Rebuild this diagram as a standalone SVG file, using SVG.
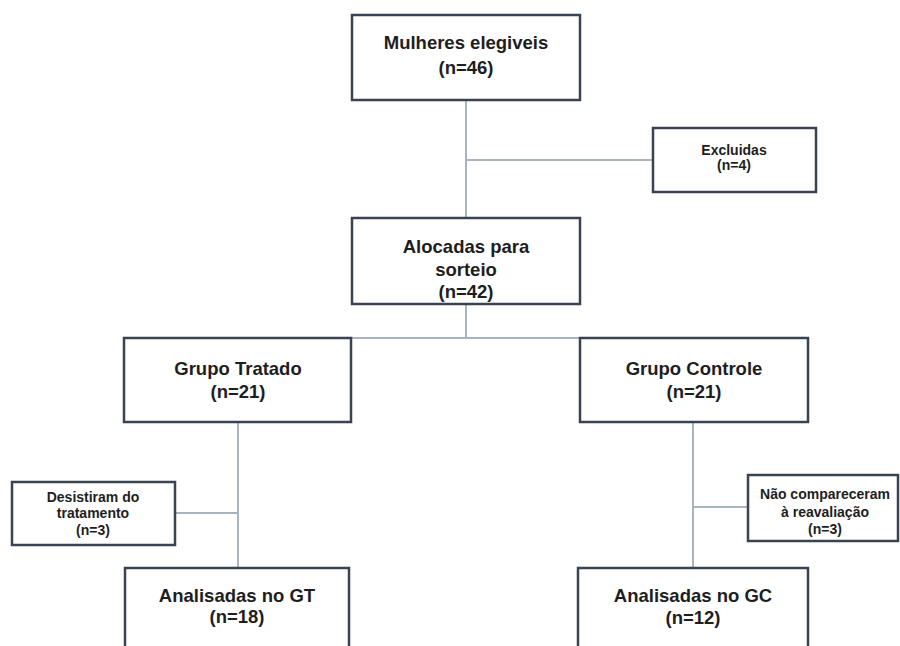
<svg xmlns="http://www.w3.org/2000/svg" width="900" height="646" viewBox="0 0 900 646">
<style>
.box{fill:#ffffff;stroke:#3a4352;stroke-width:2.5}
.line{stroke:#a9b4c1;stroke-width:2;fill:none}
.t{font-family:"Liberation Sans",Arial,sans-serif;font-weight:bold;fill:#1e1e1e;text-anchor:middle}
.big{font-size:18.5px}
.small{font-size:14px}
</style>
<rect width="900" height="646" fill="#ffffff"/>
<g id="connectors">
<line class="line" x1="466" y1="100" x2="466" y2="218"/>
<line class="line" x1="466" y1="160" x2="653" y2="160"/>
<line class="line" x1="466" y1="304" x2="466" y2="338"/>
<line class="line" x1="351" y1="338" x2="580" y2="338"/>
<line class="line" x1="238" y1="422" x2="238" y2="568"/>
<line class="line" x1="175" y1="513" x2="238" y2="513"/>
<line class="line" x1="693" y1="422" x2="693" y2="568"/>
<line class="line" x1="693" y1="507" x2="748" y2="507"/>
</g>
<g id="mulheres">
<rect class="box" x="352" y="15" width="228" height="85"/>
<text class="t big" x="466" y="49">Mulheres elegiveis</text>
<text class="t big" x="466" y="74">(n=46)</text>
</g>
<g id="excluidas">
<rect class="box" x="653" y="128" width="163" height="64"/>
<text class="t small" x="734" y="155">Excluidas</text>
<text class="t small" x="734" y="170">(n=4)</text>
</g>
<g id="alocadas">
<rect class="box" x="352" y="218" width="228" height="86"/>
<text class="t big" x="466" y="253">Alocadas para</text>
<text class="t big" x="466" y="276">sorteio</text>
<text class="t big" x="466" y="298">(n=42)</text>
</g>
<g id="tratado">
<rect class="box" x="124" y="338" width="227" height="84"/>
<text class="t big" x="238" y="375">Grupo Tratado</text>
<text class="t big" x="238" y="398">(n=21)</text>
</g>
<g id="controle">
<rect class="box" x="580" y="338" width="228" height="84"/>
<text class="t big" x="694" y="375">Grupo Controle</text>
<text class="t big" x="694" y="398">(n=21)</text>
</g>
<g id="desistiram">
<rect class="box" x="12" y="482" width="163" height="63"/>
<text class="t small" x="93" y="502">Desistiram do</text>
<text class="t small" x="93" y="518">tratamento</text>
<text class="t small" x="93" y="535">(n=3)</text>
</g>
<g id="naocompareceram">
<rect class="box" x="748" y="475" width="150" height="66"/>
<text class="t small" x="825" y="499">Não compareceram</text>
<text class="t small" x="825" y="517">à reavaliação</text>
<text class="t small" x="825" y="534">(n=3)</text>
</g>
<g id="analisadasGT">
<rect class="box" x="125" y="568" width="224" height="90"/>
<text class="t big" x="237" y="602">Analisadas no GT</text>
<text class="t big" x="237" y="623">(n=18)</text>
</g>
<g id="analisadasGC">
<rect class="box" x="578" y="568" width="230" height="90"/>
<text class="t big" x="693" y="602">Analisadas no GC</text>
<text class="t big" x="693" y="624">(n=12)</text>
</g>
</svg>
